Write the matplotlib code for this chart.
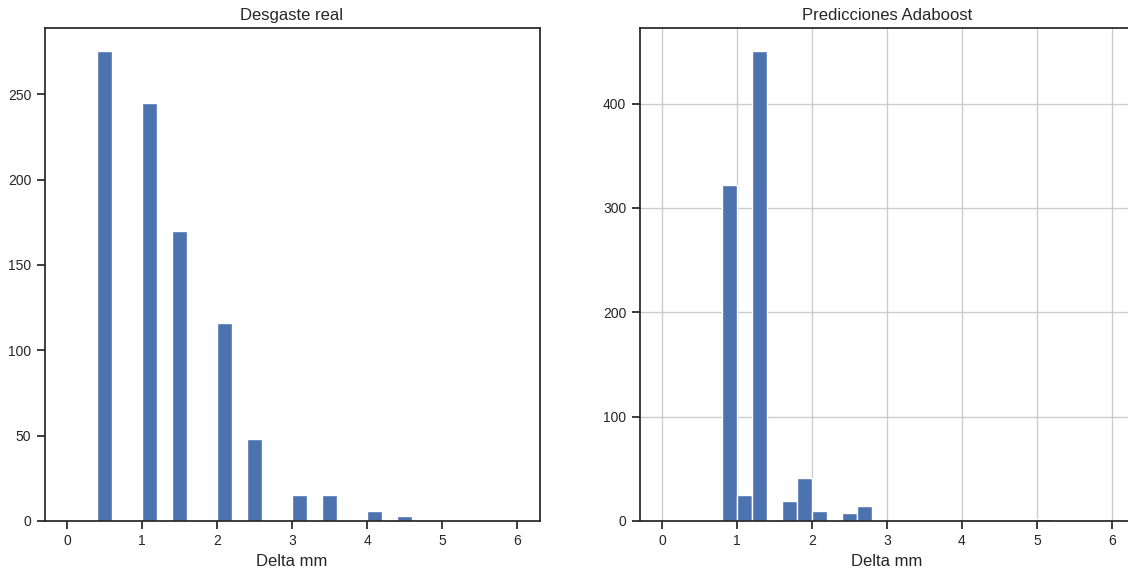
import numpy as np
import matplotlib
matplotlib.use("Agg")
import matplotlib.pyplot as plt

# histogram bins shared by both panels (mm)
bin_edges = np.linspace(0.0, 6.0, 31)

# real wear: left edge of each non-empty bin and its count
real_bin_left = [0.4, 1.0, 1.4, 2.0, 2.4, 3.0, 3.4, 4.0, 4.4]
real_counts = [275, 245, 170, 116, 48, 15, 15, 6, 3]

# adaboost predictions
pred_bin_left = [0.8, 1.0, 1.2, 1.6, 1.8, 2.0, 2.4, 2.6, 5.0]
pred_counts = [322, 25, 450, 19, 41, 10, 8, 14, 2]

BAR_COLOR = "#4c72b0"
TEXT_COLOR = "#262626"

plt.rcParams.update({
    "font.family": ["Liberation Sans", "DejaVu Sans"],
    "font.size": 10,
    "text.color": TEXT_COLOR,
    "axes.labelcolor": TEXT_COLOR,
    "axes.edgecolor": TEXT_COLOR,
    "axes.linewidth": 1.25,
    "xtick.color": TEXT_COLOR,
    "ytick.color": TEXT_COLOR,
    "xtick.major.size": 6,
    "ytick.major.size": 6,
    "xtick.major.width": 1.25,
    "ytick.major.width": 1.25,
    "axes.titlesize": 12,
    "axes.labelsize": 12,
})


def draw_hist(ax, left, counts, title, grid):
    centers = np.asarray(left) + 0.1
    ax.hist(centers, bins=bin_edges, weights=counts, color=BAR_COLOR,
            edgecolor="white", linewidth=1.0)
    ax.set_title(title)
    ax.set_xlabel("Delta mm")
    ax.set_xticks(range(0, 7))
    if grid:
        ax.grid(True, color="#cccccc", linewidth=1.0)
        ax.set_axisbelow(True)


fig = plt.figure(figsize=(11.28, 5.71), dpi=100)
ax_real = fig.add_axes([44.5 / 1128, 50 / 571, 495 / 1128, 493 / 571])
ax_pred = fig.add_axes([639.5 / 1128, 50 / 571, 495 / 1128, 493 / 571])

draw_hist(ax_real, real_bin_left, real_counts, "Desgaste real", grid=False)
draw_hist(ax_pred, pred_bin_left, pred_counts, "Predicciones Adaboost", grid=True)
# the right panel runs past the figure edge, so its right border is not shown
ax_pred.spines["right"].set_visible(False)

fig.savefig("out.png", dpi=100)
